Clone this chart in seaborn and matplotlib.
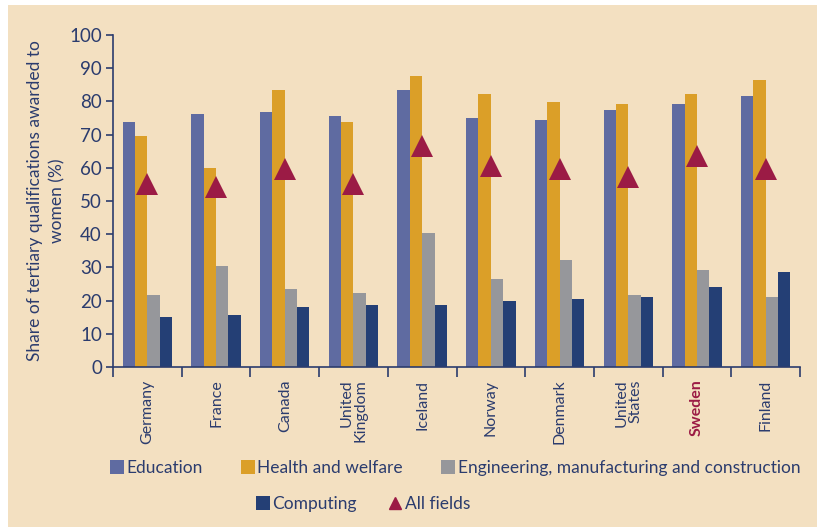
import numpy as np
import pandas as pd
import matplotlib
matplotlib.use("Agg")
import matplotlib.pyplot as plt
from matplotlib.patches import Patch, Rectangle
from matplotlib.lines import Line2D
import seaborn as sns

# data (%)
countries = ["Germany", "France", "Canada", "United\nKingdom", "Iceland",
             "Norway", "Denmark", "United\nStates", "Sweden", "Finland"]
education = [73.7, 76.2, 76.8, 75.6, 83.4, 75.0, 74.4, 77.4, 79.2, 81.6]
health = [69.6, 59.8, 83.4, 73.7, 87.6, 82.2, 79.8, 79.2, 82.2, 86.4]
engineering = [21.7, 30.3, 23.6, 22.4, 40.5, 26.6, 32.1, 21.8, 29.1, 21.2]
computing = [15.2, 15.8, 18.2, 18.8, 18.8, 20.0, 20.6, 21.2, 24.2, 28.5]
all_fields = [55.2, 54.2, 59.7, 55.0, 66.5, 60.4, 59.7, 57.3, 63.5, 59.7]

fields = ["Education", "Health and welfare",
          "Engineering, manufacturing and construction", "Computing"]
colors = ["#5F6BA1", "#DB9F28", "#96979B", "#243F75"]
tri_color = "#9B1B45"
navy = "#2B3C6E"
beige = "#F3E0C1"

sns.set_style("ticks")
plt.rcParams["font.family"] = ["Lato", "DejaVu Sans"]

df = pd.DataFrame({
    "country": countries * 4,
    "field": np.repeat(fields, len(countries)),
    "share": education + health + engineering + computing,
})

fig = plt.figure(figsize=(8.17, 5.27), dpi=100, facecolor="white")
fig.patches.append(Rectangle((8 / 817, 0), 1, 1 - 5 / 527, transform=fig.transFigure,
                             facecolor=beige, edgecolor="none", zorder=-10))
ax = fig.add_axes([113 / 817, 1 - 367 / 527, 687 / 817, 332 / 527])
ax.set_facecolor("none")

sns.barplot(data=df, x="country", y="share", hue="field", palette=colors,
            width=0.72, saturation=1, legend=False, linewidth=0, ax=ax)
ax.plot(np.arange(len(countries)), all_fields, linestyle="none", marker="^",
        markersize=15.5, color=tri_color, markeredgewidth=0)

ax.set_xlim(-0.5, len(countries) - 0.5)
ax.set_ylim(0, 100)
ax.set_yticks(np.arange(0, 101, 10))
ax.set_xlabel("")
ylab = ax.set_ylabel("Share of tertiary qualifications awarded to\nwomen (%)",
                     color=navy, fontsize=12.5, labelpad=3)
ylab.set_linespacing(1.45)

for s in ["top", "right"]:
    ax.spines[s].set_visible(False)
for s in ["left", "bottom"]:
    ax.spines[s].set_color(navy)
    ax.spines[s].set_linewidth(1.2)

ax.tick_params(axis="y", colors=navy, labelsize=13.5, length=5, width=1.2, pad=3)
ax.tick_params(axis="x", which="major", length=0, labelsize=11.5, labelcolor=navy,
               pad=9, rotation=90)
ax.set_xticks(np.arange(-0.5, len(countries), 1), minor=True)
ax.tick_params(axis="x", which="minor", length=7, width=1.2, color=navy)
for lbl in ax.get_xticklabels():
    lbl.set_multialignment("right")
    lbl.set_linespacing(1.0)
    if lbl.get_text() == "Sweden":
        lbl.set_color(tri_color)
        lbl.set_fontweight("bold")

h1 = [Patch(facecolor=c, edgecolor="none") for c in colors[:3]]
fig.legend(h1, fields[:3], loc="center", bbox_to_anchor=(455 / 817, 1 - 468 / 527),
           ncol=3, frameon=False, fontsize=12.5, labelcolor=navy,
           handlelength=0.8, handleheight=0.8, handletextpad=0.15, columnspacing=2.2)
h2 = [Patch(facecolor=colors[3], edgecolor="none"),
      Line2D([], [], linestyle="none", marker="^", color=tri_color, markersize=9)]
fig.legend(h2, ["Computing", "All fields"], loc="center",
           bbox_to_anchor=(363 / 817, 1 - 504 / 527), ncol=2, frameon=False,
           fontsize=12.5, labelcolor=navy, handlelength=0.8, handleheight=0.8,
           handletextpad=0.15, columnspacing=1.8)

fig.savefig("out.png", dpi=100, facecolor="white")
